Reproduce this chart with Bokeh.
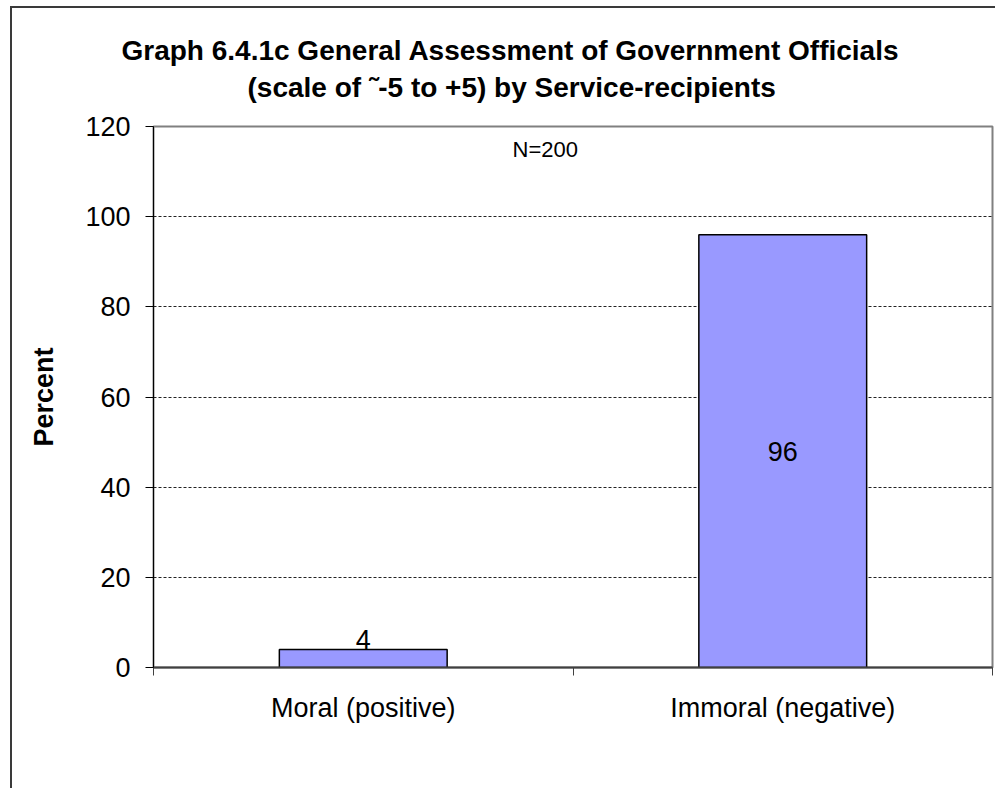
from bokeh.plotting import figure
from bokeh.models import (Range1d, LinearAxis, FixedTicker, Title, Label, ColumnDataSource)
from bokeh.core.properties import value
from bokeh.embed import file_html
from bokeh.resources import INLINE

# ---- data ----
categories = ["Moral (positive)", "Immoral (negative)"]
percents = [4, 96]
y_ticks = [0, 20, 40, 60, 80, 100, 120]
title_line1 = "Graph 6.4.1c General Assessment of Government Officials"
title_line2 = "(scale of \u02dc-5 to +5) by Service-recipients"
y_label = "Percent"
note = "N=200"

FONT = "Liberation Sans"

positions = [i + 0.5 for i in range(len(categories))]
src = ColumnDataSource(dict(x=positions, top=percents, cat=categories))

p = figure(width=985, height=782, x_range=Range1d(0, len(categories)),
           y_range=Range1d(0, 120), x_axis_location=None,
           output_backend="svg", toolbar_location=None,
           min_border_left=141, min_border_right=5, min_border_top=118,
           min_border_bottom=123)
p.styles = {"margin-left": "10px", "margin-top": "6px",
            "border-left": "2px solid #3a3a3a", "border-top": "2px solid #3a3a3a"}
p.background_fill_color = "white"
p.border_fill_color = "white"
p.outline_line_color = "#808080"
p.outline_line_width = 2

# titles (later added = further from frame); a blank spacer sits next to the frame
spacer = Title(text=" ", text_font_size="1px", standoff=16)
t2 = Title(text=title_line2, align="left", offset=94, text_font=FONT,
           text_font_size="28px", text_font_style="bold", text_color="black", standoff=9)
t1 = Title(text=title_line1, align="left", offset=-32, text_font=FONT,
           text_font_size="28px", text_font_style="bold", text_color="black", standoff=0)
p.add_layout(spacer, "above")
p.add_layout(t2, "above")
p.add_layout(t1, "above")

# y axis
ya = p.yaxis[0]
ya.ticker = FixedTicker(ticks=y_ticks)
ya.axis_label = y_label
ya.axis_label_text_font = FONT
ya.axis_label_text_font_size = "27px"
ya.axis_label_text_font_style = "bold"
ya.axis_label_text_color = "black"
ya.axis_label_standoff = 23
ya.major_label_text_font = FONT
ya.major_label_text_font_size = "27px"
ya.major_label_text_color = "black"
ya.major_label_standoff = 15
ya.major_tick_in = 0
ya.major_tick_out = 8
ya.minor_tick_in = 0
ya.minor_tick_out = 0
ya.axis_line_color = "black"
ya.major_tick_line_color = "black"

# grid
p.xgrid.visible = False
p.ygrid.ticker = FixedTicker(ticks=y_ticks[1:-1])
p.ygrid.grid_line_color = "#222222"
p.ygrid.grid_line_dash = "3 2"
p.ygrid.grid_line_width = 1

# x axes: boundary ticks + category labels
tick_axis = LinearAxis(ticker=FixedTicker(ticks=list(range(len(categories) + 1))),
                       major_label_text_font_size="0px", major_label_text_color=None,
                       major_label_standoff=0, major_tick_in=0, major_tick_out=8,
                       minor_tick_in=0, minor_tick_out=0,
                       axis_line_color="#404040", axis_line_width=2,
                       major_tick_line_color="#404040")
p.add_layout(tick_axis, "below")
cat_axis = LinearAxis(ticker=FixedTicker(ticks=positions),
                      major_label_overrides={pos: c for pos, c in zip(positions, categories)},
                      axis_line_color=None, major_tick_line_color=None,
                      minor_tick_line_color=None,
                      major_tick_in=0, major_tick_out=0, minor_tick_in=0, minor_tick_out=0,
                      major_label_text_font=FONT, major_label_text_font_size="27px",
                      major_label_text_color="black", major_label_standoff=17)
p.add_layout(cat_axis, "below")

# bars
p.vbar(x="x", top="top", width=0.4, source=src, fill_color="#9999FF",
       line_color="black", line_width=1.5)

# data labels
p.text(x=[positions[0]], y=[percents[0]], text=[str(percents[0])],
       text_align="center", text_baseline="bottom", y_offset=0,
       text_font=value(FONT), text_font_size="27px", text_color="black")
p.text(x=[positions[1]], y=[percents[1] / 2], text=[str(percents[1])],
       text_align="center", text_baseline="middle",
       text_font=value(FONT), text_font_size="27px", text_color="black")

p.add_layout(Label(x=0.934, y=115, text=note,
                   text_align="center", text_baseline="middle",
                   text_font=FONT, text_font_size="22px", text_color="black"))

open("out.html", "w").write(file_html(p, INLINE))
